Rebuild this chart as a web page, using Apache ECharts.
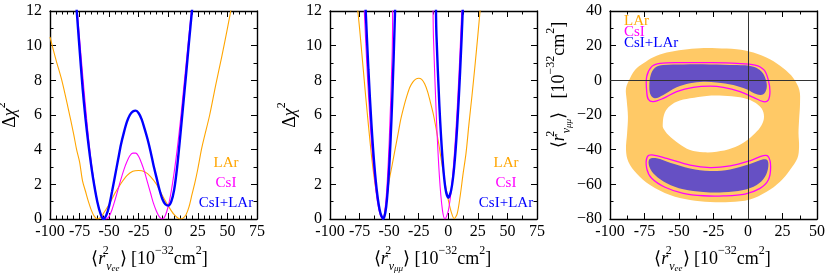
<!DOCTYPE html>
<html><head><meta charset="utf-8">
<script src="https://cdn.jsdelivr.net/npm/echarts@6/dist/echarts.min.js"></script>
<style>html,body{margin:0;padding:0;background:#fff}#c{width:830px;height:274px}</style>
</head><body><div id="c"></div>
<script>
// ---------- data: panel 1 (nu_ee) ----------
const eeLAr = [[-100,10.5],[-95,9.2],[-90,8.0],[-85,6.5],[-80,4.9],[-77.5,4.0],[-75,3.3],[-72.5,2.2],[-70,1.6],[-67.5,1.0],[-65,0.5],[-62.5,0.15],[-60,0.0],[-57.5,0.08],[-55,0.3],[-50,0.85],[-45,1.5],[-40,2.05],[-35,2.5],[-30,2.75],[-25,2.8],[-20,2.72],[-15,2.45],[-10,2.0],[-5,1.35],[0,0.75],[5,0.25],[10,0.0],[12.5,0.05],[15,0.25],[17.5,0.7],[20,1.4],[22.5,2.1],[25,2.9],[28,4.0],[30,4.6],[35,6.0],[40,7.7],[45,9.3],[50,11.0],[55,12.8]];
const eeCsI = [[-80,14.5],[-77,12],[-75,10.4],[-72.5,8.4],[-70,6.5],[-67.5,4.7],[-65,3.2],[-62.5,2.0],[-60,1.0],[-57.5,0.35],[-55,0.05],[-52.5,0.0],[-50,0.15],[-47.5,0.55],[-45,1.1],[-42.5,1.7],[-40,2.3],[-37.5,2.85],[-35,3.3],[-32.5,3.65],[-30,3.8],[-27.5,3.8],[-25,3.6],[-22.5,3.2],[-20,2.7],[-17.5,2.1],[-15,1.5],[-12.5,0.9],[-10,0.45],[-7.5,0.12],[-5,0.0],[-2.5,0.2],[0,0.75],[2.5,1.6],[5,2.7],[7.5,4.0],[10,5.5],[12.5,7.2],[15,8.9],[17.5,10.6],[20,12.3]];
const eeComb = [[-80,14.6],[-77.5,12.1],[-75,9.8],[-72.5,7.6],[-70,5.8],[-67.5,4.3],[-65,3.0],[-62.5,1.9],[-60,1.0],[-57.5,0.35],[-55,0.0],[-52.5,0.2],[-50,0.75],[-47.5,1.6],[-45,2.5],[-42.5,3.4],[-40,4.3],[-37.5,5.0],[-35,5.6],[-32.5,6.0],[-30,6.2],[-27.5,6.25],[-25,6.1],[-22.5,5.75],[-20,5.2],[-17.5,4.6],[-15,3.9],[-12.5,3.1],[-10,2.4],[-7.5,1.7],[-5,1.15],[-2.5,0.85],[0,0.77],[2.5,1.0],[5,1.7],[7.5,3.0],[10,4.7],[12.5,6.5],[15,8.3],[17.5,10.2],[20,12.0],[22.5,13.8]];
// ---------- data: panel 2 (nu_mumu) ----------
const mmLAr = [[-82.5,16],[-80,14.3],[-77.5,12.7],[-75,11.0],[-72.5,9.1],[-70,7.2],[-67.5,5.4],[-65,3.7],[-62.5,2.3],[-60,1.2],[-57.5,0.4],[-55.5,0.0],[-52.5,0.9],[-50,2.2],[-47.5,3.1],[-45,4.0],[-42.5,4.9],[-40,5.8],[-37.5,6.5],[-35,7.1],[-32.5,7.6],[-30,7.9],[-27.5,8.07],[-25,8.12],[-22.5,8.05],[-20,7.8],[-17.5,7.35],[-15,6.7],[-12.5,6.0],[-10,5.1],[-7.5,4.1],[-5,3.0],[-2.5,2.0],[0,1.1],[2.5,0.4],[5,0.02],[7.5,0.3],[10,1.3],[12.5,2.6],[15,3.8],[17.5,5.5],[20,7.1],[22.5,8.8],[25,10.6],[27.5,12.5]];
const mmCsI = [[-75,18.9],[-72.5,14.4],[-70,10.5],[-67.5,7.2],[-65,4.5],[-62.5,2.5],[-60,1.04],[-57.5,0.22],[-55.4,0.0],[-52.5,1.27],[-50,4.4],[-47.5,9.4],[-45,16.3],[-15,16.5],[-12.5,10.4],[-10,5.75],[-7.5,2.45],[-5,0.54],[-2.8,0.0],[0,0.47],[2.5,1.67],[5,3.6],[7.5,6.3],[10,9.75],[12.5,13.9]];
const mmComb = [[-72.5,16.7],[-70,12.3],[-67.5,8.6],[-65,5.5],[-62.5,3.1],[-60,1.4],[-57.5,0.37],[-55,0.0],[-52.5,0.7],[-50,2.9],[-47.5,6.7],[-45,12.0],[-42.5,18.8],[-12.5,15.9],[-10,10.6],[-7.5,6.5],[-5,3.6],[-2.5,1.8],[0,1.23],[2.5,1.68],[5,3.0],[7.5,5.3],[10,8.5],[12.5,12.5],[15,17.5]];
// ---------- data: panel 3 (allowed regions) ----------
const larOuter = [[-88.4,-4.6],[-85.5,1.2],[-81.9,6.0],[-75.8,9.8],[-68.6,13.3],[-58.9,16.0],[-46.9,17.7],[-34.8,18.5],[-22.7,18.5],[-8.2,17.9],[3.9,16.0],[15.9,12.1],[25.6,6.9],[32.9,1.2],[37.2,-5.6],[37.7,-13.3],[37.0,-22.9],[36.6,-30.6],[37.0,-38.3],[35.8,-45.0],[30.4,-51.7],[23.2,-58.5],[13.5,-64.3],[1.4,-68.7],[-13.0,-70.2],[-27.5,-70.2],[-42.0,-69.1],[-56.5,-66.2],[-71.0,-60.4],[-80.7,-53.7],[-86.7,-46.9],[-88.4,-40.2],[-87.6,-30.6],[-87.0,-21.0],[-87.9,-11.4]];
const larHole = [[-61.8,-25.8],[-60.9,-20.0],[-57.7,-15.6],[-51.7,-12.3],[-42.0,-10.4],[-30.0,-9.0],[-17.9,-8.9],[-5.8,-9.8],[3.9,-12.3],[9.9,-16.2],[11.6,-21.0],[9.9,-25.8],[5.1,-30.6],[-2.2,-35.4],[-11.8,-39.2],[-22.7,-41.2],[-32.4,-41.5],[-42.0,-40.2],[-50.5,-36.3],[-57.7,-31.6],[-61.4,-27.7]];
const combTop = [[-71.5,-3.7],[-70.5,3.1],[-67.4,7.3],[-61.4,8.8],[-46.9,9.2],[-27.5,9.2],[-8.2,8.8],[3.9,7.9],[9.9,5.0],[13.0,0.2],[13.5,-4.6],[11.1,-8.1],[6.3,-8.1],[-1.0,-5.2],[-10.6,-2.7],[-22.7,-1.2],[-32.4,-0.8],[-42.0,-1.7],[-51.7,-4.0],[-61.4,-8.5],[-67.4,-10.4],[-70.5,-8.5]];
const csiTop = [[-73.4,-6.5],[-73.4,2.1],[-69.8,7.9],[-63.8,9.8],[-46.9,10.2],[-27.5,10.2],[-8.2,9.8],[5.1,8.8],[11.6,6.0],[14.7,0.2],[15.9,-6.5],[14.7,-11.4],[11.1,-12.3],[3.9,-9.8],[-5.8,-6.5],[-17.9,-4.0],[-27.5,-3.3],[-39.6,-4.0],[-51.7,-6.5],[-61.4,-10.4],[-68.6,-12.3],[-72.2,-11.0]];
const combBottom = [[-71.5,-45.6],[-66.2,-45.0],[-56.5,-47.5],[-42.0,-50.8],[-27.5,-52.3],[-13.0,-51.4],[1.4,-48.3],[11.1,-45.6],[14.0,-46.0],[14.7,-49.8],[12.3,-55.6],[6.3,-60.4],[-3.4,-63.3],[-17.9,-64.6],[-32.4,-64.4],[-46.9,-62.9],[-58.9,-59.4],[-67.4,-54.6],[-71.5,-49.8]];
const csiBottom = [[-72.9,-44.0],[-68.6,-43.1],[-58.9,-45.0],[-42.0,-48.9],[-27.5,-50.4],[-13.0,-49.4],[1.4,-46.4],[11.1,-43.5],[14.7,-44.0],[16.4,-49.8],[14.7,-57.5],[8.7,-62.3],[-2.2,-65.6],[-17.9,-66.7],[-32.4,-66.6],[-46.9,-65.2],[-60.1,-61.7],[-69.8,-56.5],[-73.4,-50.8]];
const zeroLines = [0, 0];
const legendLabels = ['LAr', 'CsI', 'CsI+LAr'];

// ---------- styling ----------
const F = 'Liberation Serif';
const C_LAR = '#FFA500', C_CSI = '#FF00FF', C_COMB = '#0000FF';
const rich = {
  m: {fontFamily: F, fontSize: 18, lineHeight: 28, color: '#000'},
  i: {fontFamily: F, fontSize: 18, lineHeight: 28, fontStyle: 'italic', color: '#000'},
  s0: {fontFamily: F, fontSize: 12, lineHeight: 18, verticalAlign: 'top', width: 1, color: '#000'},
  sp: {fontFamily: F, fontSize: 12, lineHeight: 18, verticalAlign: 'top', color: '#000'},
  sb: {fontFamily: F, fontSize: 12, lineHeight: 16, verticalAlign: 'bottom', fontStyle: 'italic', color: '#000'},
  sbb: {fontFamily: F, fontSize: 9, lineHeight: 12, verticalAlign: 'bottom', fontStyle: 'italic', color: '#000'}
};
const nameEE = '{m|\u27E8}{i|r}{s0|2}{sb|\u03BD}{sbb|ee}{m|\u27E9 [10}{sp|\u221232}{m|cm}{sp|2}{m|]}';
const nameMM = '{m|\u27E8}{i|r}{s0|2}{sb|\u03BD}{sbb|\u03BC\u03BC}{m|\u27E9 [10}{sp|\u221232}{m|cm}{sp|2}{m|]}';
const nameMMy = '{m|\u27E8}{i|r}{s0|2}{sb|\u03BD}{sbb|\u03BC\u03BC}{m|\u27E9   [10}{sp|\u221232}{m|cm}{sp|2}{m|]}';
const nameChi = '{m|\u0394}{i|\u03C7}{sp|2}';

const GL = [50, 330, 610];
const grid = GL.map(l => ({left: l, top: 11, width: 207, height: 208, containLabel: false, outerBoundsMode: 'none'}));

function axisCommon(min, max, interval, minorSplit) {
  return {
    type: 'value', min: min, max: max, interval: interval,
    axisLine: {show: true, onZero: false, lineStyle: {color: '#000', width: 1.4}},
    axisTick: {show: true, inside: true, length: 6, lineStyle: {color: '#000', width: 1}},
    minorTick: {show: true, splitNumber: minorSplit, length: 3.5, lineStyle: {color: '#000', width: 1}},
    splitLine: {show: false}, minorSplitLine: {show: false}
  };
}
const labelStyle = {color: '#000', fontFamily: F, fontSize: 16};
function xPair(g, min, max, interval, ms, name, pad) {
  const b = Object.assign(axisCommon(min, max, interval, ms), {
    gridIndex: g, position: 'bottom',
    axisLabel: Object.assign({show: true, margin: 5, showMinLabel: true, showMaxLabel: true}, labelStyle),
    name: name, nameLocation: 'middle', nameGap: 20,
    nameTextStyle: {rich: rich, padding: pad}
  });
  const t = Object.assign(axisCommon(min, max, interval, ms), {gridIndex: g, position: 'top', axisLabel: {show: false}});
  return [b, t];
}
function yPair(g, min, max, interval, ms, name, gap, fmt, pad) {
  const l = Object.assign(axisCommon(min, max, interval, ms), {
    gridIndex: g, position: 'left',
    axisLabel: Object.assign({show: true, margin: 8, formatter: fmt}, labelStyle),
    name: name, nameLocation: 'middle', nameGap: gap, nameRotate: 90,
    nameTextStyle: {rich: rich, padding: pad}
  });
  const r = Object.assign(axisCommon(min, max, interval, ms), {gridIndex: g, position: 'right', axisLabel: {show: false}});
  return [l, r];
}
const minusFmt = v => String(v).replace('-', '\u2212');

const xAxis = [].concat(
  xPair(0, -100, 75, 25, 5, nameEE, [0, 8, 0, 0]),
  xPair(1, -100, 75, 25, 2, nameMM, [0, 2, 0, 0]),
  xPair(2, -100, 50, 25, 2, nameEE, [0, 2, 0, 0])
);
const yAxis = [].concat(
  yPair(0, 0, 12, 2, 2, nameChi, 26, null, [0, 0, 0, 0]),
  yPair(1, 0, 12, 2, 2, nameChi, 26, null, [0, 0, 0, 0]),
  yPair(2, -80, 40, 20, 2, nameMMy, 37, minusFmt, [0, 0, 0, 60])
);

function curve(data, color, w, xi) {
  return {type: 'line', xAxisIndex: xi, yAxisIndex: xi, data: data, showSymbol: false, symbol: 'none',
    smooth: 0.3, clip: true, lineStyle: {color: color, width: w}, silent: true};
}
function poly(points, fill, stroke, lw) {
  return {type: 'custom', xAxisIndex: 4, yAxisIndex: 4, data: points, encode: {x: 0, y: 1}, silent: true, clip: true,
    renderItem: function (params, api) {
      if (params.dataIndex !== 0) return null;
      const pts = points.map(p => api.coord(p));
      return {type: 'polygon', shape: {points: pts, smooth: 0.35},
        style: {fill: fill, stroke: stroke, lineWidth: lw}};
    }};
}

const series = [
  curve(eeLAr, C_LAR, 1.1, 0), curve(eeCsI, C_CSI, 1.1, 0), curve(eeComb, C_COMB, 2.4, 0),
  curve(mmLAr, C_LAR, 1.1, 2), curve(mmCsI, C_CSI, 1.1, 2), curve(mmComb, C_COMB, 2.4, 2),
  poly(larOuter, '#FFC966', 'none', 0),
  poly(larHole, '#FFFFFF', 'none', 0),
  poly(combTop, '#6650C4', 'none', 0),
  poly(combBottom, '#6650C4', 'none', 0),
  poly(csiTop, 'none', C_CSI, 1.3),
  poly(csiBottom, 'none', C_CSI, 1.3),
  {type: 'line', xAxisIndex: 4, yAxisIndex: 4, data: [], silent: true,
    markLine: {silent: true, symbol: 'none', label: {show: false}, animation: false,
      lineStyle: {color: '#333', width: 1, type: 'solid'},
      data: [{xAxis: zeroLines[0]}, {yAxis: zeroLines[1]}]}}
];

function legendText(x, y, i, color, align) {
  return {type: 'text', x: x, y: y, silent: true,
    style: {text: legendLabels[i], fill: color, font: '15px "' + F + '"', align: align, verticalAlign: 'middle',
      textAlign: align, textVerticalAlign: 'middle'}};
}
const graphic = [
  legendText(226, 163, 0, C_LAR, 'center'), legendText(226, 183, 1, C_CSI, 'center'), legendText(226, 203, 2, C_COMB, 'center'),
  legendText(506, 163, 0, C_LAR, 'center'), legendText(506, 183, 1, C_CSI, 'center'), legendText(506, 203, 2, C_COMB, 'center'),
  legendText(624, 21, 0, C_LAR, 'left'), legendText(624, 32, 1, C_CSI, 'left'), legendText(624, 43, 2, C_COMB, 'left')
];

const chart = echarts.init(document.getElementById('c'));
chart.setOption({animation: false, backgroundColor: '#fff', grid: grid, xAxis: xAxis, yAxis: yAxis, series: series, graphic: graphic});
</script></body></html>
